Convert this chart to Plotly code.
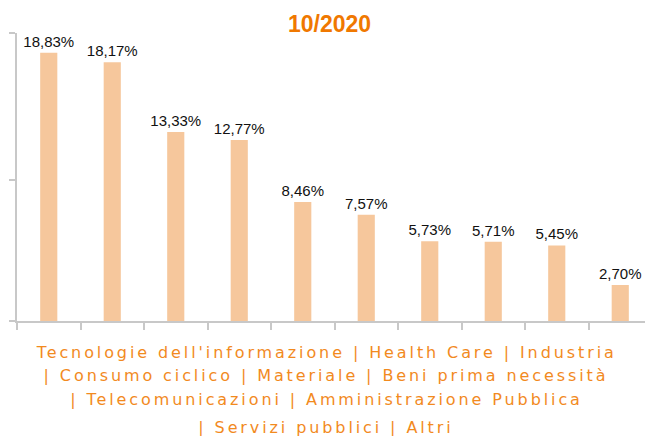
import plotly.graph_objects as go

categories = ["Tecnologie dell'informazione", "Health Care", "Industria", "Consumo ciclico",
              "Materiale", "Beni prima necessità", "Telecomunicazioni",
              "Amministrazione Pubblica", "Servizi pubblici", "Altri"]
values = [18.83, 18.17, 13.33, 12.77, 8.46, 7.57, 5.73, 5.71, 5.45, 2.70]
labels = [f"{v:.2f}%".replace(".", ",") for v in values]
title_text = "10/2020"
legend_lines = [
    "Tecnologie dell'informazione | Health Care | Industria",
    "| Consumo ciclico | Materiale | Beni prima necessità",
    "| Telecomunicazioni | Amministrazione Pubblica",
    "| Servizi pubblici | Altri",
]
y_range = [0.2, 20.2]
y_ticks = [0.2, 10, 20.2]

W, H = 645, 436
T, B, L, R = 33, 115, 17, 0
PH = H - T - B

def py(pix):
    return (H - B - pix) / PH

fig = go.Figure(go.Bar(
    x=categories, y=values, text=labels, textposition="outside", constraintext="none",
    textfont=dict(family="Liberation Sans, Arial", size=15, color="#111111"),
    marker=dict(color="#F6C79C", line=dict(width=0)),
    width=0.27, cliponaxis=False, hoverinfo="skip",
))

annotations = [dict(text=f"<b>{title_text}</b>", x=(329.5 - L) / (W - L - R),
                    y=py(24), xref="paper", yref="paper", xanchor="center", yanchor="middle",
                    showarrow=False, font=dict(family="Liberation Sans, Arial", size=23, color="#F07800"))]
baselines = [358, 381.5, 405, 433]
for line, bl in zip(legend_lines, baselines):
    annotations.append(dict(text=line, x=(326 - L) / (W - L - R), y=py(bl - 6),
                            xref="paper", yref="paper", xanchor="center", yanchor="middle",
                            showarrow=False,
                            font=dict(family="DejaVu Sans", size=16, color="#F28A1E")))

fig.update_layout(
    width=W, height=H, margin=dict(l=L, r=R, t=T, b=B),
    paper_bgcolor="white", plot_bgcolor="white", showlegend=False,
    annotations=annotations,
    xaxis=dict(range=[-0.5, -0.5 + (W - L - R) / 63.5], tickson="boundaries",
               showticklabels=False, ticks="outside", ticklen=7, tickwidth=2, tickcolor="#C8C8C8",
               showline=True, linecolor="#C8C8C8", linewidth=2, showgrid=False, zeroline=False,
               fixedrange=True),
    yaxis=dict(range=y_range, tickvals=y_ticks, showticklabels=False, ticks="outside",
               ticklen=6, tickwidth=2, tickcolor="#C8C8C8", showline=True, linecolor="#C8C8C8",
               linewidth=2, showgrid=False, zeroline=False, fixedrange=True),
)

post = """
document.body.style.margin = '0';
document.body.style.padding = '0';
document.querySelectorAll('.annotation-text').forEach(function(e){
  if (e.textContent.indexOf('|') >= 0) { e.style.letterSpacing = '2.9px'; }
});
"""
fig.write_html("out.html", config={"displayModeBar": False}, post_script=post)
